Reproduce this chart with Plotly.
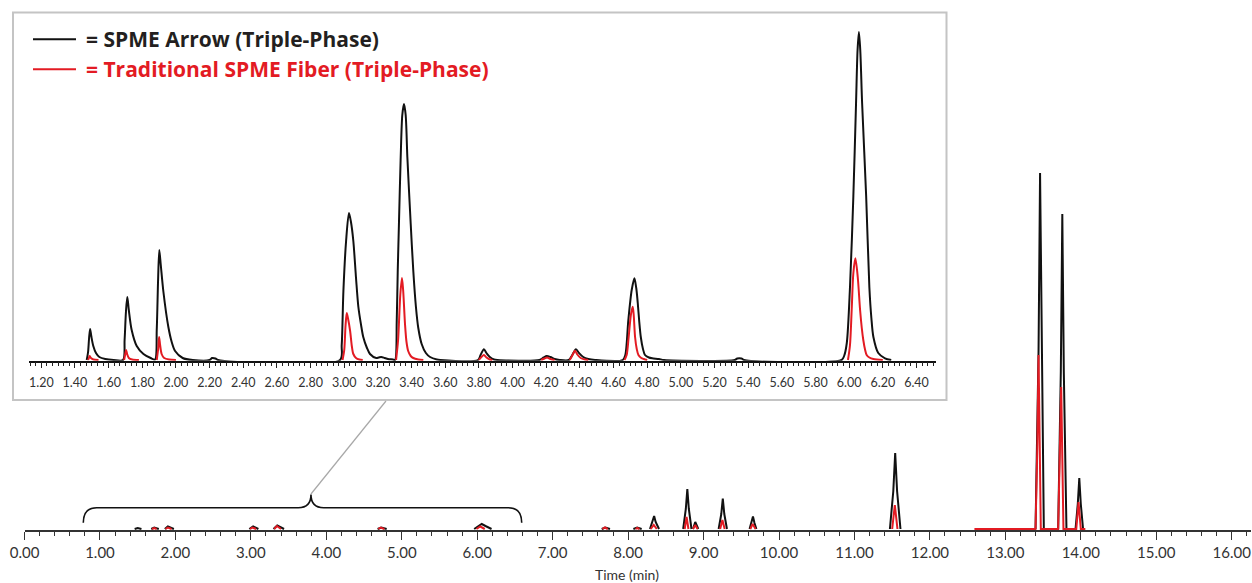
import plotly.graph_objects as go

# ---------------- data (abundance in arbitrary units, time in min) ----------------
# Inset: zoomed region 1.2 - 6.4 min
inset_arrow_t = [1.470, 1.478, 1.484, 1.490, 1.497, 1.509, 1.525, 1.545, 1.580, 1.630,
                 1.686, 1.695, 1.703, 1.711, 1.720, 1.737, 1.767, 1.807, 1.850,
                 1.876, 1.886, 1.894, 1.901, 1.910, 1.925, 1.955, 1.975, 1.995, 2.040, 2.100,
                 2.200, 2.215, 2.235, 2.250,
                 2.975, 2.985, 2.995, 3.011, 3.028, 3.040, 3.054, 3.070, 3.084, 3.100, 3.113, 3.135, 3.153, 3.190,
                 3.205, 3.220, 3.240, 3.260, 3.290,
                 3.302, 3.312, 3.318, 3.325, 3.335, 3.345, 3.355, 3.365, 3.375, 3.395, 3.410, 3.426, 3.440,
                 3.460, 3.485, 3.510, 3.550, 3.570,
                 3.795, 3.810, 3.830, 3.845, 3.865, 3.890, 3.910,
                 4.160, 4.185, 4.203, 4.225, 4.250, 4.280,
                 4.335, 4.355, 4.377, 4.395, 4.420, 4.450, 4.490,
                 4.655, 4.670, 4.688, 4.708, 4.724, 4.735, 4.744, 4.753, 4.762, 4.775, 4.787, 4.810, 4.830, 4.870, 4.900,
                 5.320, 5.335, 5.360, 5.375,
                 5.955, 5.970, 5.986, 6.005, 6.025, 6.041, 6.050, 6.058, 6.066, 6.077, 6.101, 6.120, 6.132, 6.144,
                 6.173, 6.213, 6.250]
inset_arrow_y = [0, 8, 22, 31, 24, 14, 7, 3, 1, 0,
                 0, 20, 48, 63, 50, 30, 14, 6, 2,
                 0.5, 30, 80, 110, 95, 69, 33, 18, 9, 2, 0,
                 0, 2, 1.5, 0,
                 0, 15, 69, 119, 147, 138, 119, 82, 53, 35, 23, 12, 6, 2,
                 2.5, 3, 2, 1, 0.5,
                 0, 40, 90, 136, 200, 245, 256, 245, 203, 136, 90, 53, 32,
                 16, 7, 3, 0.5, 0,
                 0, 5, 10.7, 7, 3, 0.5, 0,
                 0, 2.5, 4, 3, 1, 0,
                 0, 5, 10.7, 7, 3, 1, 0,
                 0, 5, 40, 70, 81.7, 72, 57, 38, 23, 11, 5, 2.5, 1.7, 1, 0,
                 0, 1.5, 1.5, 0,
                 0, 4, 17, 73, 164, 257, 310, 328, 310, 257, 164, 73, 42, 23,
                 7, 1.7, 0]

inset_fiber_t = [1.478, 1.483, 1.487, 1.495, 1.510, 1.540, None,
                 1.692, 1.699, 1.704, 1.710, 1.720, 1.740, 1.780, None,
                 1.886, 1.895, 1.900, 1.906, 1.915, 1.930, 1.960, 2.000, None,
                 2.990, 3.000, 3.008, 3.015, 3.022, 3.035, 3.045, 3.054, 3.070, 3.090, 3.110, None,
                 3.308, 3.320, 3.333, 3.343, 3.350, 3.361, 3.370, 3.380, 3.395, 3.410, 3.440, 3.470, None,
                 3.800, 3.815, 3.830, 3.845, 3.865, 3.880, None,
                 4.170, 4.190, 4.205, 4.225, 4.250, None,
                 4.340, 4.355, 4.371, 4.385, 4.405, 4.430, 4.450, None,
                 4.665, 4.678, 4.690, 4.703, 4.714, 4.720, 4.728, 4.738, 4.748, 4.765, 4.780, 4.800, None,
                 5.993, 6.005, 6.015, 6.025, 6.037, 6.051, 6.065, 6.075, 6.084, 6.095, 6.104, 6.120, 6.144, 6.200]
inset_fiber_y = [0, 2, 4, 2, 0.5, 0, None,
                 0, 6, 10, 6, 2, 0.5, 0, None,
                 0, 12, 23, 15, 6, 2, 0.5, 0, None,
                 0, 10, 35, 47, 42, 29, 14, 6, 2, 0.5, 0, None,
                 0, 20, 65, 82, 70, 36, 18, 9, 4, 2, 0.5, 0, None,
                 0, 3, 5, 2.5, 0.5, 0, None,
                 0, 1.5, 2.5, 1, 0, None,
                 0, 4.5, 9.3, 5.5, 2, 0.5, 0, None,
                 0, 5, 23, 45, 53.3, 45, 23, 11, 5, 2, 1, 0, None,
                 0, 15, 50, 87, 101.7, 83, 50, 32, 20, 10, 5, 2.5, 1, 0]

# Main chromatogram 0 - 16.2 min
main_arrow_t = [1.46, 1.50, 1.55, None, 1.68, 1.72, 1.78, None, 1.86, 1.90, 1.98, None,
                2.98, 3.03, 3.10, None, 3.30, 3.35, 3.44, None, 4.68, 4.73, 4.80, None,
                5.96, 6.02, 6.06, 6.11, 6.19, None, 7.65, 7.70, 7.76, None, 8.07, 8.12, 8.18, None,
                8.29, 8.325, 8.345, 8.365, 8.41, None, 8.73, 8.765, 8.785, 8.805, 8.84, None,
                8.86, 8.89, 8.93, None, 9.20, 9.235, 9.255, 9.275, 9.31, None,
                9.61, 9.635, 9.655, 9.675, 9.70, None, 11.47, 11.515, 11.54, 11.565, 11.61, None,
                13.40, 13.44, 13.46, 13.48, 13.51, None, 13.70, 13.735, 13.755, 13.775, 13.81, None,
                13.93, 13.96, 13.98, 14.00, 14.03]
main_arrow_y = [0, 1, 0, None, 0, 1.5, 0, None, 0, 2.5, 0, None,
                0, 2.7, 0, None, 0, 3.5, 0, None, 0, 1.5, 0, None,
                0, 3.5, 5, 3, 0, None, 0, 1.5, 0, None, 0, 1.5, 0, None,
                0, 7, 13, 7, 0, None, 0, 20, 40, 20, 0, None,
                0, 7, 0, None, 0, 15, 30.5, 15, 0, None,
                0, 6, 12.6, 6, 0, None, 0, 38, 76, 38, 0, None,
                0, 178, 356, 178, 0, None, 0, 157, 315, 157, 0, None,
                0, 25, 51, 25, 0]

main_fiber_t = [1.69, 1.72, 1.75, None, 1.87, 1.90, 1.95, None, 2.99, 3.02, 3.07, None,
                3.31, 3.345, 3.40, None, 4.69, 4.72, 4.77, None, 5.99, 6.04, 6.10, None,
                7.66, 7.69, 7.73, None, 8.10, 8.12, 8.15, None, 8.30, 8.34, 8.38, None,
                8.75, 8.775, 8.80, None, 8.86, 8.89, 8.92, None, 9.22, 9.25, 9.28, None,
                9.62, 9.65, 9.69, None, 11.50, 11.535, 11.57, None,
                12.59, 13.40, 13.425, 13.44, 13.455, 13.47, 13.70, 13.725, 13.74, 13.755, 13.77,
                13.94, 13.955, 13.97, 13.985, 14.00, 14.06]
main_fiber_y = [0, 1, 0, None, 0, 1.5, 0, None, 0, 1.5, 0, None,
                0, 3, 0, None, 0, 1.5, 0, None, 0, 2.5, 0, None,
                0, 1.5, 0, None, 0, 1, 0, None, 0, 4, 0, None,
                0, 12, 0, None, 0, 4, 0, None, 0, 9, 0, None,
                0, 5, 0, None, 0, 24, 0, None,
                0, 0, 87, 174, 87, 0, 0, 71, 142, 71, 0,
                0, 13.5, 27, 13.5, 0, 0]

series_names = ["= SPME Arrow (Triple-Phase)", "= Traditional SPME Fiber (Triple-Phase)"]
axis_title = "Time (min)"

# ---------------- layout helpers ----------------
W, H = 1252, 583
BLACK = "#111111"
RED = "#e31b23"
FONT = "Lato"
LEGEND_FONT = "Open Sans"


def px(xp):
    return xp / W


def py(yp):
    return 1 - yp / H


fig = go.Figure()
fig.add_trace(go.Scatter(x=main_arrow_t, y=main_arrow_y, mode="lines", xaxis="x", yaxis="y",
                         line=dict(color=BLACK, width=2), hoverinfo="skip", showlegend=False))
fig.add_trace(go.Scatter(x=main_fiber_t, y=main_fiber_y, mode="lines", xaxis="x", yaxis="y",
                         line=dict(color=RED, width=2), hoverinfo="skip", showlegend=False))
fig.add_trace(go.Scatter(x=inset_arrow_t, y=inset_arrow_y, mode="lines", xaxis="x2", yaxis="y2",
                         line=dict(color=BLACK, width=2, shape="spline", smoothing=0.8),
                         hoverinfo="skip", showlegend=False))
fig.add_trace(go.Scatter(x=inset_fiber_t, y=inset_fiber_y, mode="lines", xaxis="x2", yaxis="y2",
                         line=dict(color=RED, width=2, shape="spline", smoothing=0.8),
                         hoverinfo="skip", showlegend=False))

# main axes: t=0 at 24.5px, 75.45 px/min; y: 1 unit = 1 px, baseline at 529px
main_x_range = [0, 16.25]
fig.update_layout(
    template="none",
    autosize=False,
    xaxis=dict(range=main_x_range, domain=[px(24.5), px(24.5 + 75.45 * 16.25)],
               showgrid=False, zeroline=False, showline=True, linecolor="#333333", linewidth=1.5,
               ticks="outside", ticklen=8, tickwidth=1.3, tickcolor="#333333",
               dtick=1, tick0=0, tickformat=".2f", automargin=False,
               tickfont=dict(family=FONT, size=15, color="#333333"),
               minor=dict(dtick=0.2, tick0=0, ticks="outside", ticklen=4, tickwidth=1.2, tickcolor="#333333"),
               anchor="y", fixedrange=True),
    yaxis=dict(range=[-1, 370], domain=[py(530), py(159)], visible=False, fixedrange=True,
               anchor="x", automargin=False),
    xaxis2=dict(range=[1.127, 6.516], domain=[px(29), px(936)],
                showgrid=False, zeroline=False, showline=True, linecolor="#111111", linewidth=1.5,
                ticks="outside", ticklen=6, tickwidth=1.2, tickcolor="#222222",
                dtick=0.2, tick0=0, tickformat=".2f", ticklabelstandoff=4, automargin=False,
                tickfont=dict(family=FONT, size=12.5, color="#333333"),
                minor=dict(dtick=0.2 / 6, tick0=0, ticks="outside", ticklen=3.5, tickwidth=1, tickcolor="#222222"),
                anchor="y2", fixedrange=True),
    yaxis2=dict(range=[-0.7, 345], domain=[py(360.7), py(15)], visible=False, fixedrange=True,
                anchor="x2", automargin=False),
    width=W, height=H,
    margin=dict(l=0, r=0, t=0, b=0, pad=0),
    paper_bgcolor="white", plot_bgcolor="rgba(0,0,0,0)",
    font=dict(family=FONT),
)

shapes = []
# inset frame
shapes.append(dict(type="rect", xref="paper", yref="paper", x0=px(13), x1=px(946.5), y0=py(400), y1=py(12.5),
                   line=dict(color="#c4c4c4", width=2), fillcolor="white", layer="below"))
# brace under the zoomed region (main data coords; y in px above baseline)
b_l, b_r, b_c = 0.779, 6.590, 3.797
b_h, b_tip, b_end = 21.3, 34.5, 6.3
brace = (f"M {b_l},{b_end} Q {b_l},{b_h} {b_l + 0.178},{b_h} L {b_c - 0.168},{b_h} "
         f"Q {b_c},{b_h} {b_c},{b_tip} Q {b_c},{b_h} {b_c + 0.168},{b_h} "
         f"L {b_r - 0.178},{b_h} Q {b_r},{b_h} {b_r},{b_end}")
shapes.append(dict(type="path", xref="x", yref="y", path=brace, line=dict(color=BLACK, width=1.6)))
# callout line from brace tip to inset frame
shapes.append(dict(type="line", xref="x", yref="y", x0=b_c, y0=b_tip + 0.5, x1=4.791, y1=128,
                   line=dict(color="#a8a8a8", width=1.2)))
# legend swatches
shapes.append(dict(type="line", xref="paper", yref="paper", x0=px(33), x1=px(76), y0=py(39.3), y1=py(39.3),
                   line=dict(color=BLACK, width=2)))
shapes.append(dict(type="line", xref="paper", yref="paper", x0=px(33), x1=px(76), y0=py(69.3), y1=py(69.3),
                   line=dict(color=RED, width=2)))
fig.update_layout(shapes=shapes)

annotations = [
    dict(text=f"<b>{series_names[0]}</b>", xref="paper", yref="paper", x=px(84), y=py(39),
         xanchor="left", yanchor="middle", showarrow=False,
         font=dict(family=LEGEND_FONT, size=21, color="#231f20")),
    dict(text=f"<b>{series_names[1]}</b>", xref="paper", yref="paper", x=px(84), y=py(69),
         xanchor="left", yanchor="middle", showarrow=False,
         font=dict(family=LEGEND_FONT, size=21, color=RED)),
    dict(text=axis_title, xref="paper", yref="paper", x=px(627), y=py(574.5),
         xanchor="center", yanchor="middle", showarrow=False,
         font=dict(family=FONT, size=14, color="#333333")),
]
fig.update_layout(annotations=annotations)

fig.write_html("out.html", config=dict(responsive=False, displayModeBar=False),
               post_script="document.body.style.margin='0';document.body.style.overflow='hidden';")
